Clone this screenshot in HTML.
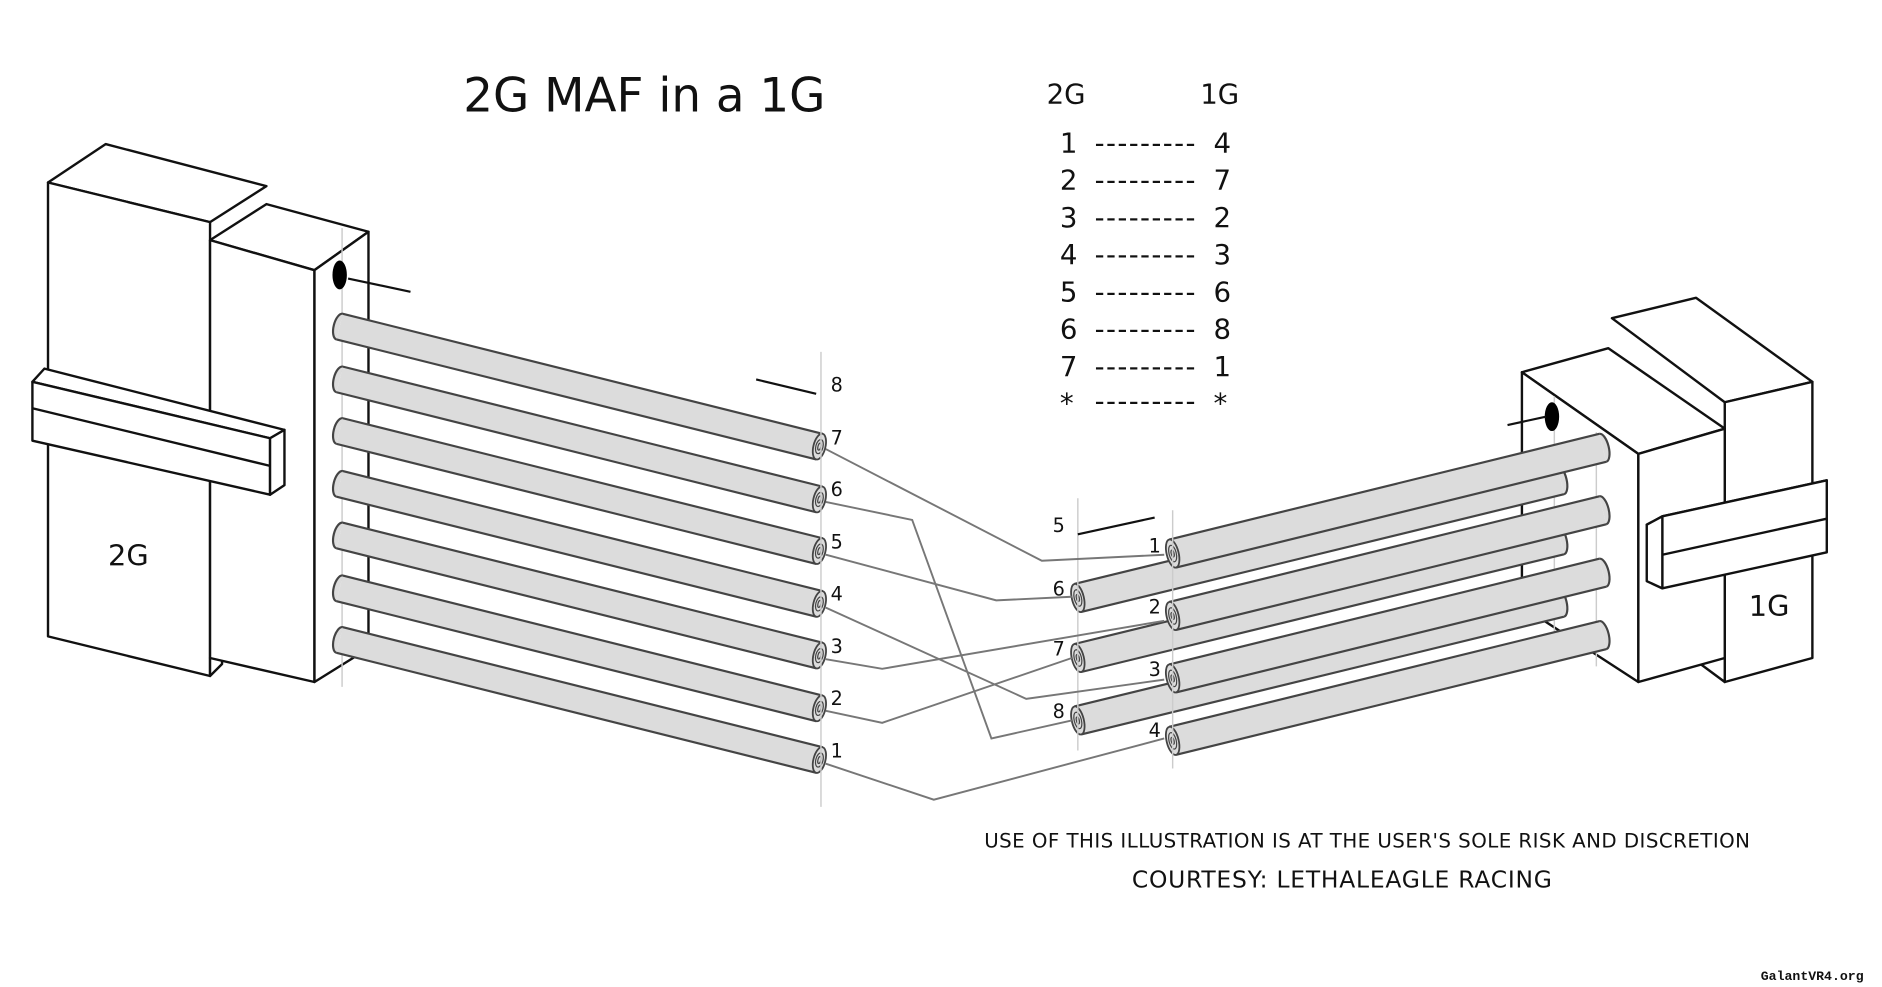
<!DOCTYPE html>
<html><head><meta charset="utf-8"><style>
html,body{margin:0;padding:0;background:#fff;}
svg{display:block;}
text{font-family:"DejaVu Sans","Liberation Sans",sans-serif;fill:#111;}
</style></head><body>
<svg width="1882" height="987" viewBox="0 0 1568 822" preserveAspectRatio="none" xmlns="http://www.w3.org/2000/svg">
<defs>
<g id="cylL">
  <rect x="0" y="-11" width="412" height="22" fill="#dcdcdc"/>
  <line x1="0" y1="-11" x2="412" y2="-11" stroke="#444" stroke-width="1.8"/>
  <line x1="0" y1="11" x2="412" y2="11" stroke="#444" stroke-width="1.8"/>
  <path d="M0,-11 A5,11 0 0 0 0,11" fill="#dcdcdc" stroke="#444" stroke-width="1.8"/>
  <ellipse cx="412" cy="0" rx="5" ry="11" fill="#dcdcdc" stroke="#444" stroke-width="1.5"/>
  <ellipse cx="412" cy="0" rx="3" ry="6" fill="none" stroke="#444" stroke-width="1"/>
  <ellipse cx="412" cy="0" rx="1.2" ry="3" fill="none" stroke="#444" stroke-width="1"/>
</g>
<g id="cylR">
  <rect x="0" y="-12" width="369" height="24" fill="#dcdcdc"/>
  <line x1="0" y1="-12" x2="369" y2="-12" stroke="#444" stroke-width="1.8"/>
  <line x1="0" y1="12" x2="369" y2="12" stroke="#444" stroke-width="1.8"/>
  <path d="M369,-12 A5,12 0 0 1 369,12" fill="#dcdcdc" stroke="#444" stroke-width="1.8"/>
  <ellipse cx="0" cy="0" rx="5" ry="12" fill="#dcdcdc" stroke="#444" stroke-width="1.5"/>
  <ellipse cx="0" cy="0" rx="3" ry="7" fill="none" stroke="#444" stroke-width="1"/>
  <ellipse cx="0" cy="0" rx="1.2" ry="3" fill="none" stroke="#444" stroke-width="1"/>
</g>
<g id="cylI">
  <rect x="0" y="-12" width="414" height="24" fill="#dcdcdc"/>
  <line x1="0" y1="-12" x2="414" y2="-12" stroke="#444" stroke-width="1.8"/>
  <line x1="0" y1="12" x2="414" y2="12" stroke="#444" stroke-width="1.8"/>
  <path d="M414,-12 A5,12 0 0 1 414,12" fill="#dcdcdc" stroke="#444" stroke-width="1.8"/>
  <ellipse cx="0" cy="0" rx="5" ry="12" fill="#dcdcdc" stroke="#444" stroke-width="1.5"/>
  <ellipse cx="0" cy="0" rx="3" ry="7" fill="none" stroke="#444" stroke-width="1"/>
  <ellipse cx="0" cy="0" rx="1.2" ry="3" fill="none" stroke="#444" stroke-width="1"/>
</g>
</defs>

<text x="386" y="93" font-size="39">2G MAF in a 1G</text>

<g font-size="23">
<text x="872" y="86">2G</text><text x="1000" y="86">1G</text>
<text x="883" y="127">1</text><text x="912" y="127" textLength="84">---------</text><text x="1011" y="127">4</text>
<text x="883" y="158">2</text><text x="912" y="158" textLength="84">---------</text><text x="1011" y="158">7</text>
<text x="883" y="189">3</text><text x="912" y="189" textLength="84">---------</text><text x="1011" y="189">2</text>
<text x="883" y="220">4</text><text x="912" y="220" textLength="84">---------</text><text x="1011" y="220">3</text>
<text x="883" y="251">5</text><text x="912" y="251" textLength="84">---------</text><text x="1011" y="251">6</text>
<text x="883" y="282">6</text><text x="912" y="282" textLength="84">---------</text><text x="1011" y="282">8</text>
<text x="883" y="313">7</text><text x="912" y="313" textLength="84">---------</text><text x="1011" y="313">1</text>
<text x="883" y="344">*</text><text x="912" y="342" textLength="84">---------</text><text x="1011" y="344">*</text>
</g>

<g fill="#fff" stroke="#111" stroke-width="2" stroke-linejoin="round">
  <polygon points="40,152 88,120 222,155 175,185"/>
  <polygon points="40,152 175,185 175,563 40,530"/>
  <polygon points="175,563 185,553 185,545 175,548"/>
  <polygon points="175,200 222,170 307,193 262,225"/>
  <polygon points="175,200 262,225 262,568 175,548"/>
  <polygon points="262,225 307,193 307,540 262,568"/>
  <polygon points="27,318 37,307 237,358 225,365"/>
  <polygon points="27,318 225,365 225,412 27,367"/>
  <line x1="27" y1="340" x2="225" y2="388"/>
  <polygon points="225,365 237,358 237,404 225,412"/>
</g>
<text x="90" y="471" font-size="24">2G</text>
<line x1="285" y1="190" x2="285" y2="572" stroke="#ccc" stroke-width="1.2"/>
<ellipse cx="283" cy="229" rx="6" ry="12" fill="#000"/>
<line x1="290" y1="232" x2="342" y2="243" stroke="#111" stroke-width="1.8"/>

<g>
<use href="#cylL" transform="translate(283,272) rotate(14.04)"/>
<use href="#cylL" transform="translate(283,316) rotate(14.04)"/>
<use href="#cylL" transform="translate(283,359) rotate(14.04)"/>
<use href="#cylL" transform="translate(283,403) rotate(14.04)"/>
<use href="#cylL" transform="translate(283,446) rotate(14.04)"/>
<use href="#cylL" transform="translate(283,490) rotate(14.04)"/>
<use href="#cylL" transform="translate(283,533) rotate(14.04)"/>
</g>
<line x1="684" y1="293" x2="684" y2="672" stroke="#ccc" stroke-width="1.2"/>
<line x1="630" y1="316" x2="680" y2="328" stroke="#111" stroke-width="1.8"/>
<g font-size="16">
<text x="692" y="326">8</text>
<text x="692" y="370">7</text>
<text x="692" y="413">6</text>
<text x="692" y="457">5</text>
<text x="692" y="500">4</text>
<text x="692" y="544">3</text>
<text x="692" y="587">2</text>
<text x="692" y="631">1</text>
</g>

<g fill="#fff" stroke="#111" stroke-width="2" stroke-linejoin="round">
  <polygon points="1343,265 1413,248 1510,318 1437,335"/>
  <polygon points="1437,335 1510,318 1510,548 1437,568"/>
  <polygon points="1410,548 1437,568 1437,540"/>
  <polygon points="1268,310 1340,290 1437,357 1365,378"/>
  <polygon points="1268,310 1365,378 1365,568 1268,505"/>
  <polygon points="1365,378 1437,357 1437,548 1365,568"/>
  <polygon points="1372,437 1385,430 1522,400 1512,405"/>
  <polygon points="1385,430 1522,400 1522,460 1385,490"/>
  <line x1="1385" y1="462" x2="1522" y2="432"/>
  <polygon points="1372,437 1385,430 1385,490 1372,484"/>
</g>
<text x="1457" y="513" font-size="24">1G</text>
<line x1="1295" y1="330" x2="1295" y2="540" stroke="#ccc" stroke-width="1.2"/>
<line x1="1330" y1="360" x2="1330" y2="555" stroke="#ccc" stroke-width="1.2"/>
<ellipse cx="1293" cy="347" rx="6" ry="12" fill="#000"/>
<line x1="1256" y1="354" x2="1288" y2="347" stroke="#111" stroke-width="1.8"/>

<use href="#cylI" transform="translate(898,498) rotate(-13.7)"/>
<use href="#cylI" transform="translate(898,548) rotate(-13.7)"/>
<use href="#cylI" transform="translate(898,600) rotate(-13.7)"/>
<use href="#cylR" transform="translate(977,461) rotate(-13.8)"/>
<use href="#cylR" transform="translate(977,513) rotate(-13.8)"/>
<use href="#cylR" transform="translate(977,565) rotate(-13.8)"/>
<use href="#cylR" transform="translate(977,617) rotate(-13.8)"/>

<line x1="898" y1="415" x2="898" y2="625" stroke="#ccc" stroke-width="1.2"/>
<line x1="977" y1="425" x2="977" y2="640" stroke="#ccc" stroke-width="1.2"/>
<line x1="898" y1="445" x2="962" y2="431" stroke="#111" stroke-width="1.8"/>
<g font-size="16">
<text x="877" y="443">5</text>
<text x="957" y="460">1</text>
<text x="877" y="496">6</text>
<text x="957" y="511">2</text>
<text x="877" y="546">7</text>
<text x="957" y="563">3</text>
<text x="877" y="598">8</text>
<text x="957" y="614">4</text>
</g>

<g fill="none" stroke="#777" stroke-width="1.6">
<polyline points="688,374 868,467 970,462"/>
<polyline points="688,418 760,433 826,615 893,600"/>
<polyline points="688,462 830,500 893,497"/>
<polyline points="688,506 855,582 970,566"/>
<polyline points="688,549 735,557 970,517"/>
<polyline points="688,592 735,602 893,548"/>
<polyline points="688,636 778,666 970,615"/>
</g>

<text x="820" y="706" font-size="16.5" textLength="638">USE OF THIS ILLUSTRATION IS AT THE USER'S SOLE RISK AND DISCRETION</text>
<text x="943" y="739" font-size="19.5" textLength="350">COURTESY: LETHALEAGLE RACING</text>
<text x="1467" y="816" font-size="11" font-weight="bold" style="font-family:'Liberation Mono',monospace">GalantVR4.org</text>
</svg>
</body></html>
